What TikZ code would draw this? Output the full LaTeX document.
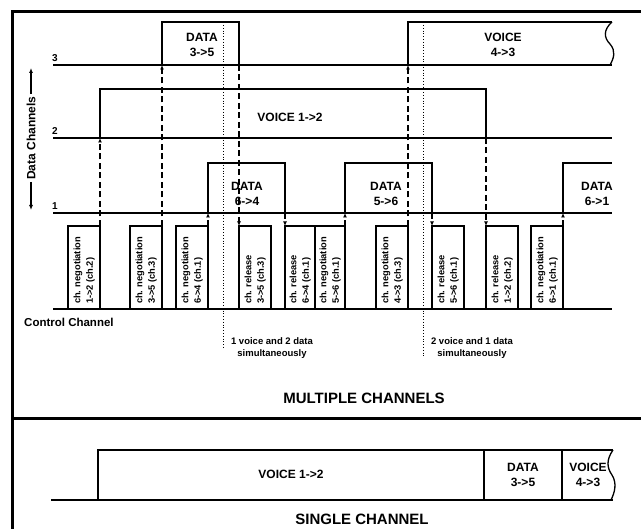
\documentclass[tikz,border=0pt]{standalone}
\usepackage{fontspec}
\setmainfont{Liberation Sans}
\usepackage{graphicx}
\usetikzlibrary{arrows.meta}
\tikzset{
  chl/.style={line width=1.3pt},
  sess/.style={line width=2.8pt},
  frm/.style={line width=3pt},
  cbox/.style={draw, line width=2.4pt, minimum width=32pt, minimum height=83pt,
               inner sep=0pt, outer sep=0pt, font=\fontsize{9.3}{12.5}\selectfont\bfseries},
  conn/.style={-{Latex[length=4.5pt,width=4pt]}, line width=1.2pt, dash pattern=on 6pt off 3.5pt},
  gde/.style={line width=0.8pt, dash pattern=on 0.8pt off 2pt},
  slbl/.style={font=\fontsize{12}{15}\selectfont\bfseries, align=center, inner sep=0pt},
  chn/.style={font=\fontsize{10}{12}\selectfont\bfseries, inner sep=0pt},
  note/.style={font=\fontsize{9.5}{12}\selectfont\bfseries, align=center, inner sep=0pt},
  ttl/.style={font=\fontsize{15}{18}\selectfont\bfseries, inner sep=0pt},
  axarr/.style={-{Latex[length=5pt,width=4pt]}, line width=1.3pt},
}
\newcommand{\cctext}[2]{\rotatebox{90}{\begin{tabular}{@{}l@{}}\makebox[73pt][l]{#1}\\#2\end{tabular}}}

\begin{document}
\begin{tikzpicture}[x=1pt, y={(0pt,-1pt)}]
  \useasboundingbox[fill=white] (0,0) rectangle (641,529);
  \draw[frm] (641,12) -| (12,529);
  \draw[frm] (12,419) -- (641,419);

  % multiple channels
  \draw[chl] (53,65) -- (612,65);
  \draw[chl] (53,138) -- (612,138);
  \draw[chl] (53,213) -- (612,213);
  \draw[chl] (53,309) -- (612,309);
  \node[chn, anchor=south west] (c3) at (52,62) {3};
  \node[chn, anchor=south west] (c2) at (52,135) {2};
  \node[chn, anchor=south west] (c1) at (52,210) {1};
  \node[chn, font=\fontsize{11.5}{13}\selectfont\bfseries, anchor=west] (cc) at (24,322) {Control Channel};
  \node[slbl, rotate=90, inner sep=2pt] (dch) at (31,138) {Data Channels};
  \coordinate (dtop) at (31,68);
  \coordinate (dbot) at (31,210);
  \draw[axarr] (dch.east) -- (dtop);
  \draw[axarr] (dch.west) -- (dbot);

  \node[cbox] (n12) at (84,267.5) {\cctext{ch. negotiation}{1->2 (ch.2)}};
  \node[cbox] (n35) at (146,267.5) {\cctext{ch. negotiation}{3->5 (ch.3)}};
  \node[cbox] (n64) at (192,267.5) {\cctext{ch. negotiation}{6->4 (ch.1)}};
  \node[cbox] (r35) at (255,267.5) {\cctext{ch. release}{3->5 (ch.3)}};
  \node[cbox, minimum width=30pt] (r64) at (300,267.5) {\cctext{ch. release}{6->4 (ch.1)}};
  \node[cbox, minimum width=30pt] (n56) at (330,267.5) {\cctext{ch. negotiation}{5->6 (ch.1)}};
  \node[cbox] (n43) at (392,267.5) {\cctext{ch. negotiation}{4->3 (ch.3)}};
  \node[cbox] (r56) at (448,267.5) {\cctext{ch. release}{5->6 (ch.1)}};
  \node[cbox] (r12) at (502,267.5) {\cctext{ch. release}{1->2 (ch.2)}};
  \node[cbox] (n61) at (547,267.5) {\cctext{ch. negotiation}{6->1 (ch.1)}};

  \coordinate (v12a) at (100,138);
  \coordinate (v12b) at (486,138);
  \coordinate (d35a) at (162,65);
  \coordinate (d35b) at (239,65);
  \coordinate (d64a) at (208,213);
  \coordinate (d64b) at (285,213);
  \coordinate (d56a) at (345,213);
  \coordinate (d56b) at (432,213);
  \coordinate (v43a) at (408,65);
  \coordinate (d61a) at (563,213);

  \draw[conn] (n12.north east) -- (v12a);
  \draw[conn] (n35.north east) -- (d35a);
  \draw[conn] (n64.north east) -- (d64a);
  \draw[conn] (d35b) -- (r35.north west);
  \draw[conn] (d64b) -- (r64.north west);
  \draw[conn] (n56.north east) -- (d56a);
  \draw[conn] (n43.north east) -- (v43a);
  \draw[conn] (d56b) -- (r56.north west);
  \draw[conn] (v12b) -- (r12.north west);
  \draw[conn] (n61.north east) -- (d61a);

  \draw[sess] (v12a) |- (486,89) -- (v12b);
  \draw[sess] (d35a) |- (239,22) -- (d35b);
  \draw[sess] (d64a) |- (285,163) -- (d64b);
  \draw[sess] (d56a) |- (432,163) -- (d56b);
  \draw[sess] (v43a) |- (612,22);
  \draw[chl] (612,22) .. controls (603,30) and (604,38) .. (610,44)
             .. controls (616,51) and (614,58) .. (610,65);
  \draw[sess] (d61a) |- (612,163);

  \node[slbl] (l35) at (202,45) {DATA\\3->5};
  \node[slbl] (l43) at (503,45) {VOICE\\4->3};
  \node[slbl] (l12) at (290,117) {VOICE 1->2};
  \node[slbl] (l64) at (247,194) {DATA\\6->4};
  \node[slbl] (l56) at (386,194) {DATA\\5->6};
  \node[slbl] (l61) at (597,194) {DATA\\6->1};

  \draw[gde] (223,25) -- (223,348);
  \draw[gde] (423,25) -- (423,357);
  \node[note] (a1) at (272,348) {1 voice and 2 data\\simultaneously};
  \node[note] (a2) at (472,348) {2 voice and 1 data\\simultaneously};
  \node[ttl] (mc) at (364,398) {MULTIPLE CHANNELS};

  % single channel
  \draw[chl] (51,500) -- (613,500);
  \draw[sess] (98,500) |- (613,450);
  \draw[sess] (484,450) -- (484,500);
  \draw[sess] (562,450) -- (562,500);
  \draw[chl] (613,450) .. controls (606,460) and (607,468) .. (612,475)
             .. controls (617,483) and (615,492) .. (611,500);
  \node[slbl] (s12) at (291,474) {VOICE 1->2};
  \node[slbl] (s35) at (523,475) {DATA\\3->5};
  \node[slbl] (s43) at (588,475) {VOICE\\4->3};
  \node[ttl] (sc) at (362,519) {SINGLE CHANNEL};
\end{tikzpicture}
\end{document}
